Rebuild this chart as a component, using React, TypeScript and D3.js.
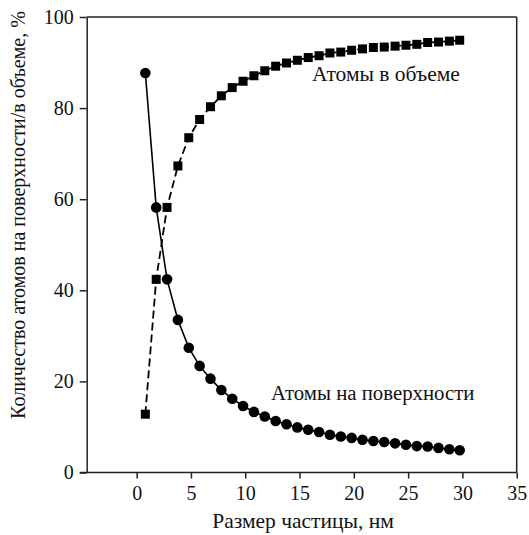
import React, { useEffect, useRef } from "react";
import * as d3 from "d3";

// particle size, nm
const sizes = [0.8, 1.8, 2.8, 3.8, 4.8, 5.8, 6.8, 7.8, 8.8, 9.8, 10.8, 11.8, 12.8, 13.8, 14.8,
  15.8, 16.8, 17.8, 18.8, 19.8, 20.8, 21.8, 22.8, 23.8, 24.8, 25.8, 26.8, 27.8, 28.8, 29.75];
// atoms on the surface, %
const surface = [87.7, 58.2, 42.4, 33.5, 27.4, 23.4, 20.6, 18.1, 16.2, 14.6, 13.3, 12.3, 11.3, 10.6, 9.9,
  9.4, 8.9, 8.3, 7.9, 7.6, 7.2, 6.9, 6.7, 6.4, 6.1, 5.8, 5.7, 5.4, 5.1, 4.9];
// atoms in the bulk, %
const bulk = [12.8, 42.4, 58.2, 67.3, 73.5, 77.5, 80.3, 82.7, 84.5, 85.9, 87.1, 88.2, 89.2, 89.9, 90.5,
  91.1, 91.5, 92.1, 92.3, 92.7, 93.0, 93.3, 93.4, 93.6, 93.8, 94.0, 94.4, 94.5, 94.7, 94.9];
const xTicks = [0, 5, 10, 15, 20, 25, 30, 35];
const yTicks = [0, 20, 40, 60, 80, 100];

const W = 529;
const H = 535;
const FONT = "'Liberation Serif', serif";

export default function App() {
  const ref = useRef<SVGSVGElement>(null);

  useEffect(() => {
    const svg = d3.select(ref.current);
    svg.selectAll("*").remove();

    const x = d3.scaleLinear().domain([-4.6, 35]).range([86.7, 516.7]);
    const y = d3.scaleLinear().domain([0, 100]).range([472.5, 17]);

    const g = svg.append("g");

    // frame top and right
    g.append("line").attr("x1", x(-4.6)).attr("x2", x(35)).attr("y1", y(100)).attr("y2", y(100))
      .attr("stroke", "#222").attr("stroke-width", 1.5);
    g.append("line").attr("x1", x(35)).attr("x2", x(35)).attr("y1", y(100)).attr("y2", y(0))
      .attr("stroke", "#222").attr("stroke-width", 1.5);

    const xAxis = g.append("g").attr("transform", `translate(0,${y(0)})`)
      .call(d3.axisBottom(x).tickValues(xTicks).tickSize(6).tickSizeOuter(0).tickPadding(7));
    xAxis.select(".domain").attr("d", `M${x(-4.6) - 7},0H${x(35)}`);

    const yAxis = g.append("g").attr("transform", `translate(${x(-4.6)},0)`)
      .call(d3.axisLeft(y).tickValues(yTicks).tickSize(7).tickSizeOuter(0).tickPadding(6));

    [xAxis, yAxis].forEach((a) => {
      a.attr("font-family", FONT).attr("font-size", 20);
      a.selectAll("path, line").attr("stroke", "#222").attr("stroke-width", 1.5);
      a.selectAll("text").style("font-family", FONT).attr("font-size", 20).attr("fill", "#111");
    });

    const ptsS = sizes.map((s, i) => [s, surface[i]] as [number, number]);
    const ptsB = sizes.map((s, i) => [s, bulk[i]] as [number, number]);
    const line = d3.line<[number, number]>().x((d) => x(d[0])).y((d) => y(d[1]));

    g.append("path").attr("d", line(ptsS)).attr("fill", "none").attr("stroke", "#000").attr("stroke-width", 1.6);
    g.append("path").attr("d", line(ptsB)).attr("fill", "none").attr("stroke", "#000")
      .attr("stroke-width", 1.8).attr("stroke-dasharray", "8,4");

    g.selectAll(".sq").data(ptsB).enter().append("rect")
      .attr("x", (d) => x(d[0]) - 4.5).attr("y", (d) => y(d[1]) - 4.5)
      .attr("width", 9).attr("height", 9).attr("fill", "#000");

    g.selectAll(".ci").data(ptsS).enter().append("circle")
      .attr("cx", (d) => x(d[0])).attr("cy", (d) => y(d[1])).attr("r", 5.3).attr("fill", "#000");

    const label = (t: string, px: number, py: number, size: number, anchor = "start", tr?: string) => {
      const el = g.append("text").text(t).attr("text-anchor", anchor)
        .style("font-family", FONT).attr("font-size", size).attr("fill", "#111");
      if (tr) el.attr("transform", tr);
      else el.attr("x", px).attr("y", py);
    };
    label("Атомы в объеме", 312, 81, 21.5);
    label("Атомы на поверхности", 271, 400, 20.8);
    label("Размер частицы, нм", 303, 528, 21.5, "middle");
    label("Количество атомов на поверхности/в объеме, %", 0, 0, 20, "middle", "translate(25,215) rotate(-90)");
  }, []);

  return (
    <svg ref={ref} width={W} height={H}
      style={{ position: "absolute", left: 0, top: 0, background: "#fff" }} />
  );
}
